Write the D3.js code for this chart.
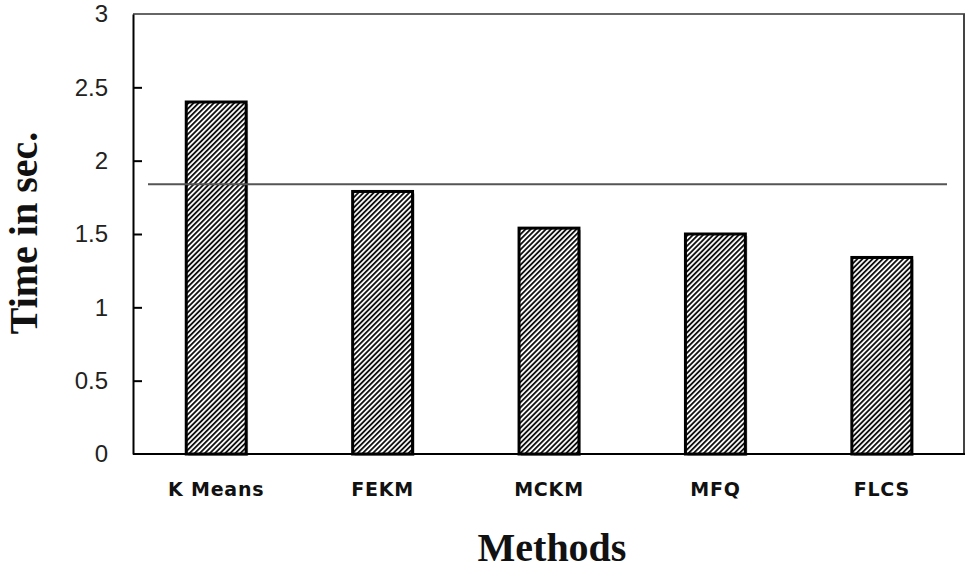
<!DOCTYPE html>
<html>
<head>
<meta charset="utf-8">
<script src="https://cdn.jsdelivr.net/npm/d3@7"></script>
<style>
  html, body { margin: 0; padding: 0; background: #fff; }
  svg { display: block; }
</style>
</head>
<body>
<svg id="chart" width="968" height="570"></svg>
<script>
const categories = ["K Means", "FEKM", "MCKM", "MFQ", "FLCS"];
const values = [2.40, 1.79, 1.54, 1.50, 1.34];
const referenceValue = 1.84;
const yTicks = [0, 0.5, 1, 1.5, 2, 2.5, 3];
const yTickLabels = ["0", "0.5", "1", "1.5", "2", "2.5", "3"];

const W = 968, H = 570;
const margin = { left: 133, right: 3, top: 14, bottom: 116 };
const svg = d3.select("#chart");

const x = d3.scaleBand()
  .domain(categories)
  .range([margin.left, W - margin.right])
  .paddingInner(0.64)
  .paddingOuter(0.32);

const y = d3.scaleLinear()
  .domain([0, 3])
  .range([H - margin.bottom, margin.top]);

// hatch pattern
const defs = svg.append("defs");
const pat = defs.append("pattern")
  .attr("id", "hatch")
  .attr("patternUnits", "userSpaceOnUse")
  .attr("width", 3.6)
  .attr("height", 3.6)
  .attr("patternTransform", "rotate(45)");
pat.append("rect").attr("width", 3.6).attr("height", 3.6).attr("fill", "#fff");
pat.append("line")
  .attr("x1", 0.9).attr("y1", 0).attr("x2", 0.9).attr("y2", 3.6)
  .attr("stroke", "#111").attr("stroke-width", 1.9);

// frame (top and right, gray)
svg.append("line")
  .attr("x1", x.range()[0]).attr("x2", x.range()[1])
  .attr("y1", y(3)).attr("y2", y(3))
  .attr("stroke", "#666").attr("stroke-width", 2);
svg.append("line")
  .attr("x1", x.range()[1] - 1).attr("x2", x.range()[1] - 1)
  .attr("y1", y(3)).attr("y2", y(0))
  .attr("stroke", "#444").attr("stroke-width", 2);

// bar shadows
svg.append("g").selectAll("rect")
  .data(categories)
  .join("rect")
  .attr("x", d => x(d) + 2)
  .attr("y", (d, i) => y(values[i]) + 2)
  .attr("width", x.bandwidth())
  .attr("height", (d, i) => y(0) - y(values[i]))
  .attr("fill", "#bbb");

// bars
svg.append("g").selectAll("rect")
  .data(categories)
  .join("rect")
  .attr("x", d => x(d))
  .attr("y", (d, i) => y(values[i]))
  .attr("width", x.bandwidth())
  .attr("height", (d, i) => y(0) - y(values[i]))
  .attr("fill", "url(#hatch)")
  .attr("stroke", "#000")
  .attr("stroke-width", 3);

// reference line
svg.append("line")
  .attr("x1", 148).attr("x2", 947)
  .attr("y1", y(referenceValue)).attr("y2", y(referenceValue))
  .attr("stroke", "#555").attr("stroke-width", 2);

// y axis
const yAxis = d3.axisLeft(y)
  .tickValues(yTicks)
  .tickFormat((d, i) => yTickLabels[i])
  .tickSizeInner(-9)
  .tickSizeOuter(0)
  .tickPadding(25);
const gy = svg.append("g")
  .attr("transform", `translate(${margin.left},0)`)
  .call(yAxis);
gy.select(".domain").attr("stroke", "#000").attr("stroke-width", 2);
gy.selectAll(".tick line").attr("stroke", "#000").attr("stroke-width", 2)
  .attr("display", d => (d === 0 || d === 3) ? "none" : null);
gy.selectAll(".tick text")
  .attr("font-family", "'Liberation Sans', Arial, sans-serif")
  .attr("font-size", 24)
  .attr("fill", "#222");

// x axis
const xAxis = d3.axisBottom(x).tickSize(0).tickSizeOuter(0).tickPadding(29);
const gx = svg.append("g")
  .attr("transform", `translate(0,${y(0)})`)
  .call(xAxis);
gx.select(".domain").attr("stroke", "#000").attr("stroke-width", 2)
  .attr("d", `M${margin.left},0H${W - margin.right}`);
gx.selectAll(".tick text")
  .attr("font-family", "'DejaVu Sans', Verdana, sans-serif")
  .attr("font-weight", "bold")
  .attr("font-size", 19)
  .attr("letter-spacing", 0.8)
  .attr("fill", "#111");

// axis titles
svg.append("text")
  .attr("transform", `translate(37,233) rotate(-90)`)
  .attr("text-anchor", "middle")
  .attr("font-family", "'Liberation Serif', 'Times New Roman', serif")
  .attr("font-weight", "bold")
  .attr("font-size", 40)
  .attr("fill", "#111")
  .text("Time in sec.");

svg.append("text")
  .attr("x", 552).attr("y", 561)
  .attr("text-anchor", "middle")
  .attr("font-family", "'Liberation Serif', 'Times New Roman', serif")
  .attr("font-weight", "bold")
  .attr("font-size", 40)
  .attr("fill", "#111")
  .text("Methods");
</script>
</body>
</html>
